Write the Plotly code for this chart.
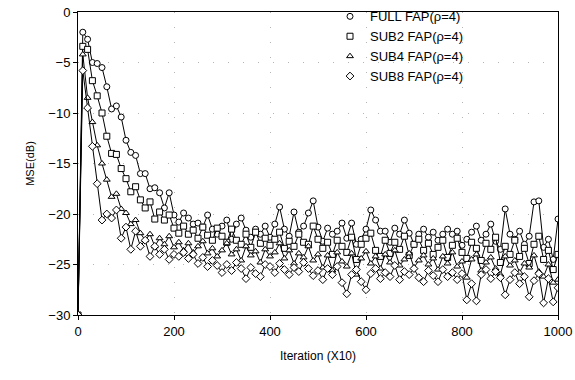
import plotly.graph_objects as go

iterations = list(range(0, 1001, 10))

full_fap = [-30, -2.0, -2.7, -5.0, -5.1, -5.5, -7.4, -9.6, -9.3, -10.4,
            -12.7, -13.9, -14.2, -16.0, -16.0, -17.5, -17.4, -17.9, -19.4, -17.9,
            -20.1, -20.8, -19.9, -20.4, -21.0, -20.9, -21.3, -20.1, -21.5, -22.0,
            -21.2, -20.6, -22.5, -21.0, -20.4, -21.6, -22.3, -21.5, -22.0, -21.2,
            -22.3, -21.0, -19.3, -21.5, -22.2, -19.8, -21.8, -21.2, -19.9, -18.7,
            -21.3, -22.7, -21.4, -22.0, -21.7, -20.9, -22.4, -20.9, -23.0, -22.5,
            -21.5, -19.6, -20.6, -21.7, -21.7, -22.8, -21.4, -22.0, -20.6, -21.9,
            -23.0, -22.0, -21.5, -22.3, -21.8, -22.6, -22.0, -21.5, -22.0, -21.7,
            -23.1, -22.5, -21.8, -21.2, -22.6, -22.0, -21.0, -22.7, -23.5, -19.5,
            -22.0, -22.5, -21.7, -23.0, -22.2, -18.8, -18.7, -23.3, -22.5, -24.5,
            -20.5]

sub2_fap = [-30, -3.4, -3.7, -6.8, -8.3, -10.0, -12.3, -14.0, -14.1, -15.5,
            -16.5, -17.8, -17.3, -18.6, -19.4, -18.8, -20.5, -19.8, -20.6, -20.1,
            -21.4, -21.9, -21.2, -22.0, -21.6, -22.4, -21.3, -22.1, -22.6, -21.4,
            -22.2, -22.8, -21.5, -22.6, -23.0, -22.0, -23.3, -21.8, -22.9, -22.4,
            -23.1, -22.5, -21.8, -23.4, -22.7, -23.2, -22.0, -22.8, -23.0, -21.2,
            -22.5, -23.4, -22.8, -24.0, -22.6, -23.2, -23.8, -22.3, -24.5, -23.0,
            -22.4, -21.9, -23.6, -24.2, -22.6, -23.9, -22.8, -23.5, -22.2, -24.1,
            -23.0, -22.5, -23.6, -22.9, -24.0, -23.3, -22.6, -24.3, -23.1, -22.4,
            -23.8, -24.4, -22.8, -23.4, -24.6, -22.9, -23.5, -22.3, -24.8, -23.2,
            -24.0, -22.6, -24.2, -23.4, -24.9, -23.0, -22.2, -24.5, -23.6, -25.5,
            -24.0]

sub4_fap = [-30, -4.2, -8.5, -10.9, -13.2, -15.0, -16.6, -18.3, -18.0, -19.5,
            -19.9, -21.0, -20.6, -21.9, -22.6, -22.0, -23.2, -22.4, -23.0, -22.2,
            -23.3, -22.8, -23.6, -22.9, -23.8, -23.2, -22.7, -23.9, -23.4, -24.2,
            -23.6, -22.9, -24.0, -23.5, -24.6, -23.2, -24.1, -23.7, -24.8, -23.5,
            -24.2, -23.8, -22.9, -24.4, -23.6, -24.9, -23.9, -24.3, -23.2, -24.6,
            -24.0, -25.3, -24.1, -25.6, -23.8, -24.7, -25.2, -23.9, -26.0, -24.4,
            -23.7, -24.9, -24.2, -25.4, -24.0, -24.8, -23.6, -25.1, -24.5, -23.9,
            -25.3, -24.6, -24.1, -25.0, -24.4, -25.5, -24.2, -24.9, -23.8, -25.2,
            -24.7, -26.3, -24.5, -24.0, -25.6, -24.8, -24.3, -25.4, -26.0, -24.2,
            -25.1, -24.6, -25.8, -24.9, -25.3, -24.1, -25.7, -26.2, -25.0, -26.8,
            -26.5]

sub8_fap = [-30, -5.8, -9.5, -13.3, -17.0, -20.6, -20.0, -20.4, -19.6, -22.4,
            -21.3, -23.5, -21.7, -23.2, -22.6, -24.2, -23.2, -24.0, -23.5, -24.5,
            -24.0, -24.2, -23.8, -24.4, -24.0, -24.9, -24.3, -25.2, -24.6, -25.1,
            -25.8, -25.0, -25.6, -24.8, -25.4, -26.4, -25.3, -25.9, -26.2, -25.0,
            -25.2, -25.8, -24.9, -25.5, -26.0, -25.3, -25.7, -24.8, -25.4, -26.1,
            -25.6, -26.5, -25.4, -26.0, -25.2, -26.8, -27.9, -26.0, -25.5, -26.7,
            -27.5, -25.9, -25.4, -26.4, -25.8, -26.2, -25.1, -26.5, -25.7, -26.0,
            -25.4, -26.3, -26.7, -25.6, -26.1, -26.7, -25.5, -26.2, -25.8, -26.5,
            -25.9, -28.5, -26.9, -28.6, -26.0, -25.5, -26.4, -25.7, -26.3, -28.0,
            -26.5, -25.8, -26.9, -26.2, -28.2, -26.6, -25.9, -28.8, -26.4, -28.7,
            -27.3]

series = [
    ("FULL FAP(\u03c1=4)", full_fap, "circle"),
    ("SUB2 FAP(\u03c1=4)", sub2_fap, "square"),
    ("SUB4 FAP(\u03c1=4)", sub4_fap, "triangle-up"),
    ("SUB8 FAP(\u03c1=4)", sub8_fap, "diamond"),
]

fig = go.Figure()
for name, vals, sym in series:
    fig.add_trace(go.Scatter(
        x=iterations, y=vals, mode="lines+markers", name=name,
        legendgroup=name, showlegend=False,
        line=dict(color="black", width=1),
        marker=dict(symbol=sym, size=6, color="white",
                    line=dict(color="black", width=1)),
    ))
for name, vals, sym in series:
    fig.add_trace(go.Scatter(
        x=[None], y=[None], mode="markers", name=name, legendgroup=name,
        marker=dict(symbol=sym, size=6, color="white",
                    line=dict(color="black", width=1)),
    ))

fig.update_layout(
    width=575, height=380,
    margin=dict(l=78, r=17, t=12, b=65, autoexpand=False),
    paper_bgcolor="white", plot_bgcolor="white",
    font=dict(family="Liberation Sans, Arial, sans-serif", color="black", size=13),
    legend=dict(x=0.525, y=1.035, xanchor="left", yanchor="top",
                bgcolor="rgba(0,0,0,0)", borderwidth=0,
                font=dict(size=13), tracegroupgap=0, itemwidth=30),
    xaxis=dict(range=[0, 1000], tickvals=[0, 200, 400, 600, 800, 1000],
               ticks="outside", ticklen=4, tickcolor="black", automargin=False,
               ticklabeloverflow="allow",
               showline=True, linecolor="black", linewidth=1, mirror=True,
               showgrid=True, gridcolor="#b5b5b5", griddash="1px,14px", gridwidth=1,
               zeroline=False,
               title=dict(text="Iteration (X10)", font=dict(size=12), standoff=14),
               tickfont=dict(size=13)),
    yaxis=dict(range=[-30, 0], tickvals=[-30, -25, -20, -15, -10, -5, 0],
               ticks="outside", ticklen=4, tickcolor="black", automargin=False,
               ticklabeloverflow="allow",
               showline=True, linecolor="black", linewidth=1, mirror=True,
               showgrid=True, gridcolor="#b5b5b5", griddash="1px,14px", gridwidth=1,
               zeroline=False,
               title=dict(text="MSE(dB)", font=dict(size=11), standoff=11),
               tickfont=dict(size=13)),
)

fig.write_html("out.html", config={"displayModeBar": False},
               post_script="document.body.style.margin='0px';")
